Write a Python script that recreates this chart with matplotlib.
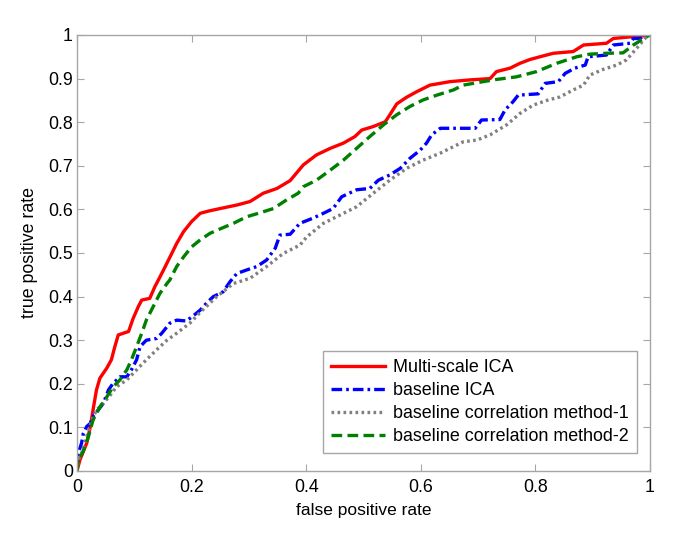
import numpy as np
import matplotlib
matplotlib.use("Agg")
import matplotlib.pyplot as plt

plt.rcParams["font.family"] = ["Liberation Sans", "DejaVu Sans"]

# ROC curves (false positive rate, true positive rate)
ms_ica_fpr = [0, 0.005, 0.017, 0.023, 0.028, 0.034, 0.04, 0.052, 0.06, 0.066, 0.072, 0.081,
              0.09, 0.098, 0.107, 0.113, 0.127, 0.136, 0.142, 0.151, 0.162, 0.174, 0.186,
              0.2, 0.215, 0.229, 0.25, 0.279, 0.302, 0.325, 0.349, 0.372, 0.395, 0.418,
              0.442, 0.465, 0.485, 0.497, 0.517, 0.538, 0.546, 0.558, 0.575, 0.593, 0.616,
              0.651, 0.686, 0.721, 0.732, 0.756, 0.773, 0.791, 0.808, 0.831, 0.866, 0.884,
              0.924, 0.936, 0.968, 0.988, 1.0]
ms_ica_tpr = [0, 0.025, 0.064, 0.10, 0.14, 0.186, 0.213, 0.236, 0.255, 0.285, 0.312, 0.316,
              0.32, 0.35, 0.377, 0.392, 0.396, 0.423, 0.438, 0.461, 0.49, 0.522, 0.549,
              0.572, 0.591, 0.596, 0.602, 0.61, 0.618, 0.637, 0.648, 0.666, 0.702, 0.725,
              0.74, 0.752, 0.767, 0.782, 0.79, 0.801, 0.817, 0.842, 0.857, 0.87, 0.885,
              0.893, 0.897, 0.90, 0.916, 0.924, 0.935, 0.944, 0.95, 0.958, 0.962, 0.977,
              0.981, 0.992, 0.996, 0.998, 1.0]

base_ica_fpr = [0, 0.002, 0.008, 0.011, 0.017, 0.023, 0.028, 0.037, 0.046, 0.055, 0.063,
                0.075, 0.087, 0.095, 0.104, 0.11, 0.121, 0.139, 0.148, 0.162, 0.174, 0.191,
                0.203, 0.215, 0.226, 0.238, 0.255, 0.267, 0.279, 0.296, 0.314, 0.331, 0.346,
                0.354, 0.372, 0.389, 0.412, 0.43, 0.447, 0.462, 0.488, 0.511, 0.526, 0.546,
                0.564, 0.581, 0.599, 0.61, 0.619, 0.634, 0.668, 0.695, 0.706, 0.738, 0.747,
                0.761, 0.77, 0.805, 0.817, 0.84, 0.852, 0.869, 0.887, 0.892, 0.924, 0.936,
                0.965, 0.971, 0.983, 0.988, 1.0]
base_ica_tpr = [0, 0.04, 0.064, 0.086, 0.102, 0.109, 0.125, 0.14, 0.155, 0.186, 0.201,
                0.216, 0.216, 0.232, 0.255, 0.285, 0.30, 0.304, 0.316, 0.339, 0.346, 0.344,
                0.356, 0.369, 0.385, 0.40, 0.411, 0.434, 0.453, 0.461, 0.469, 0.484, 0.511,
                0.541, 0.543, 0.568, 0.58, 0.591, 0.602, 0.629, 0.645, 0.648, 0.667, 0.679,
                0.694, 0.717, 0.736, 0.752, 0.771, 0.786, 0.786, 0.786, 0.805, 0.806, 0.828,
                0.847, 0.862, 0.865, 0.889, 0.893, 0.912, 0.924, 0.931, 0.95, 0.954, 0.977,
                0.981, 0.992, 0.992, 0.998, 1.0]

corr1_fpr = [0, 0.002, 0.008, 0.017, 0.026, 0.034, 0.046, 0.058, 0.069, 0.087, 0.104,
             0.121, 0.139, 0.157, 0.174, 0.197, 0.215, 0.244, 0.273, 0.302, 0.331, 0.36,
             0.389, 0.401, 0.43, 0.459, 0.488, 0.517, 0.546, 0.575, 0.604, 0.634, 0.651,
             0.674, 0.698, 0.721, 0.75, 0.773, 0.796, 0.82, 0.843, 0.866, 0.884, 0.895,
             0.918, 0.942, 0.959, 0.977, 0.994, 1.0]
corr1_tpr = [0, 0.025, 0.04, 0.079, 0.117, 0.14, 0.155, 0.174, 0.193, 0.209, 0.232,
             0.255, 0.278, 0.30, 0.316, 0.339, 0.364, 0.40, 0.43, 0.442, 0.469, 0.499,
             0.518, 0.537, 0.568, 0.587, 0.606, 0.637, 0.667, 0.694, 0.713, 0.729, 0.74,
             0.755, 0.759, 0.771, 0.794, 0.82, 0.839, 0.85, 0.858, 0.874, 0.885, 0.908,
             0.921, 0.931, 0.943, 0.97, 0.996, 1.0]

corr2_fpr = [0, 0.002, 0.008, 0.014, 0.02, 0.028, 0.04, 0.052, 0.063, 0.075, 0.087, 0.095,
             0.104, 0.113, 0.121, 0.133, 0.145, 0.157, 0.162, 0.174, 0.186, 0.2, 0.215,
             0.232, 0.253, 0.273, 0.296, 0.319, 0.343, 0.366, 0.386, 0.395, 0.418, 0.442,
             0.465, 0.488, 0.511, 0.535, 0.558, 0.581, 0.604, 0.628, 0.657, 0.674, 0.709,
             0.732, 0.767, 0.802, 0.837, 0.872, 0.895, 0.924, 0.953, 0.971, 0.994, 1.0]
corr2_tpr = [0, 0.033, 0.037, 0.056, 0.079, 0.117, 0.147, 0.17, 0.193, 0.209, 0.232, 0.255,
             0.285, 0.316, 0.346, 0.377, 0.408, 0.43, 0.438, 0.469, 0.491, 0.514, 0.53,
             0.545, 0.557, 0.568, 0.583, 0.592, 0.602, 0.622, 0.637, 0.652, 0.667, 0.69,
             0.713, 0.74, 0.767, 0.794, 0.817, 0.836, 0.851, 0.862, 0.874, 0.885, 0.893,
             0.898, 0.904, 0.916, 0.935, 0.95, 0.956, 0.958, 0.959, 0.977, 0.996, 1.0]

frame_gray = "#a6a6a6"

fig = plt.figure(figsize=(6.85, 5.44), dpi=100)
ax = fig.add_axes([0.1124, 0.1342, 0.8365, 0.8015])

ax.plot(ms_ica_fpr, ms_ica_tpr, color="#ff0000", linewidth=2.4, linestyle="-",
        label="Multi-scale ICA")
ax.plot(base_ica_fpr, base_ica_tpr, color="#0000ff", linewidth=2.4,
        linestyle=(0, (3.2, 1.2, 0.8, 1.2)), label="baseline ICA")
ax.plot(corr1_fpr, corr1_tpr, color="#808080", linewidth=2.4,
        linestyle=(0, (0.8, 1.0)), label="baseline correlation method-1")
ax.plot(corr2_fpr, corr2_tpr, color="#008000", linewidth=2.4,
        linestyle=(0, (3.2, 1.6)), label="baseline correlation method-2")

ax.set_xlim(0, 1)
ax.set_ylim(0, 1)
ax.set_xticks([0, 0.2, 0.4, 0.6, 0.8, 1])
ax.set_xticklabels(["0", "0.2", "0.4", "0.6", "0.8", "1"])
ax.set_yticks(np.arange(0, 1.01, 0.1))
ax.set_yticklabels(["0", "0.1", "0.2", "0.3", "0.4", "0.5", "0.6", "0.7", "0.8", "0.9", "1"])

for spine in ax.spines.values():
    spine.set_color(frame_gray)
    spine.set_linewidth(1.0)
ax.tick_params(direction="in", length=5, width=0.8, color=frame_gray,
               labelsize=12.8, top=True, right=True)
ax.tick_params(axis="x", pad=6)
ax.tick_params(axis="y", pad=3)

ax.set_xlabel("false positive rate", fontsize=12.5, labelpad=5)
ax.set_ylabel("true positive rate", fontsize=12.8, labelpad=7)

leg = ax.legend(loc="lower right", bbox_to_anchor=(0.977, 0.041), fontsize=12.9,
                frameon=True, fancybox=False, framealpha=1, edgecolor=frame_gray,
                handlelength=3.0, handletextpad=0.45, labelspacing=0.33,
                borderpad=0.45, borderaxespad=0)
leg.get_frame().set_linewidth(1.0)

fig.savefig("out.png", dpi=100, facecolor="white")
